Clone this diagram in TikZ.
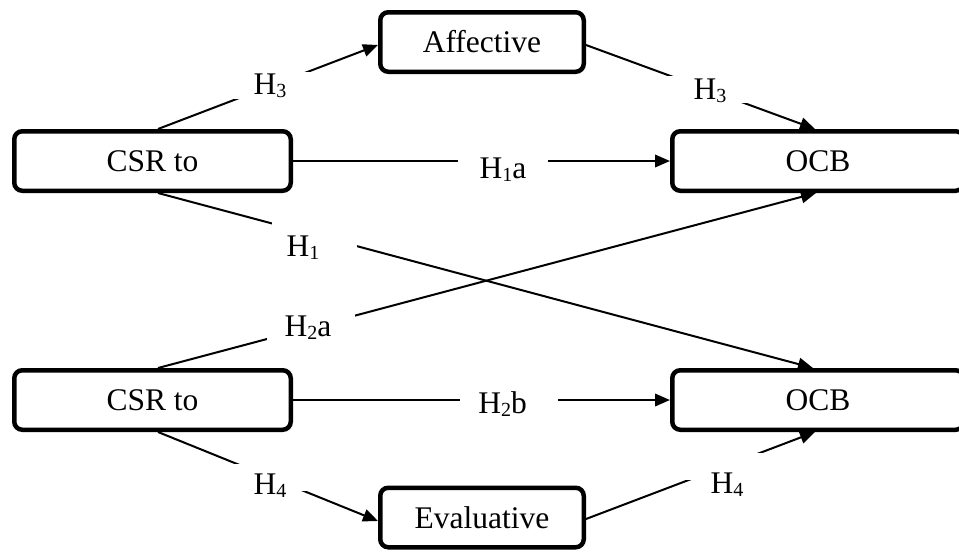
\documentclass[tikz,border=0pt]{standalone}
\usepackage{fontspec}
\setmainfont{Liberation Serif}
\usetikzlibrary{arrows.meta}
\newcommand{\hsub}[1]{\raisebox{-3pt}{\fontsize{20}{20}\selectfont #1}}
\newcommand{\hlab}[3]{\raisebox{#2}{\makebox[0pt]{\hspace*{#1}#3}}}
\begin{document}
\begin{tikzpicture}[x=1pt,y=-1pt,
  bx/.style={draw, line width=4.5pt, rounded corners=8pt, inner sep=0pt, outer sep=2.25pt,
    minimum height=59.5pt, font=\fontsize{31.5}{38}\selectfont},
  lab/.style={fill=white, inner sep=0pt, minimum height=27pt, text height=13.5pt,
    text depth=13.5pt, minimum width=88pt, font=\fontsize{31.5}{38}\selectfont},
  con/.style={line width=2pt},
  arr/.style={con, -{Triangle[length=15pt,width=12.5pt]}}]
\useasboundingbox (0,0) rectangle (959,552);
\clip (0,0) rectangle (959,552);
% boxes
\node[bx, minimum width=276.5pt] (csr1) at (152.5,161) {CSR to};
\node[bx, minimum width=291.5pt] (ocb1) at (818,161) {OCB};
\node[bx, minimum width=203.5pt] (aff) at (482,42) {Affective};
\node[bx, minimum width=276.5pt] (csr2) at (152.5,400) {CSR to};
\node[bx, minimum width=291.5pt] (ocb2) at (818,400) {OCB};
\node[bx, minimum width=203.5pt] (eva) at (482,517.5) {Evaluative};
% connectors
\draw[arr] ([xshift=5.5pt]csr1.north) -- node[lab, pos=0.52] {\hlab{-5pt}{-9.5pt}{H\hsub{3}}} ([yshift=-3pt]aff.west);
\draw[arr] ([yshift=-3pt]aff.east) -- node[lab, pos=0.533] {\hlab{4pt}{-10pt}{H\hsub{3}}} ([xshift=-3pt]ocb1.north);
\draw[arr] (csr1.east) -- node[lab, pos=0.557, minimum width=90pt] {\hlab{0pt}{-17pt}{H\hsub{1}a}} (ocb1.west);
\draw[arr] ([xshift=5.5pt]csr1.south) -- node[lab, pos=0.239, minimum width=85pt] {\hlab{-23pt}{-22pt}{H\hsub{1}}} ([xshift=-5pt]ocb2.north);
\draw[arr] ([xshift=5.5pt]csr2.north) -- node[lab, pos=0.2325] {\hlab{-6pt}{-9pt}{H\hsub{2}a}} ([xshift=-2pt]ocb1.south);
\draw[arr] (csr2.east) -- node[lab, pos=0.573, minimum width=98pt] {\hlab{-13pt}{-13pt}{H\hsub{2}b}} (ocb2.west);
\draw[arr] ([xshift=5.5pt]csr2.south) -- node[lab, pos=0.516] {\hlab{-3pt}{-17pt}{H\hsub{4}}} ([yshift=-3.5pt]eva.west);
\draw[arr] ([yshift=-1.5pt]eva.east) -- node[lab, pos=0.607] {\hlab{4pt}{-27pt}{H\hsub{4}}} ([xshift=-3pt]ocb2.south);
\end{tikzpicture}
\end{document}
